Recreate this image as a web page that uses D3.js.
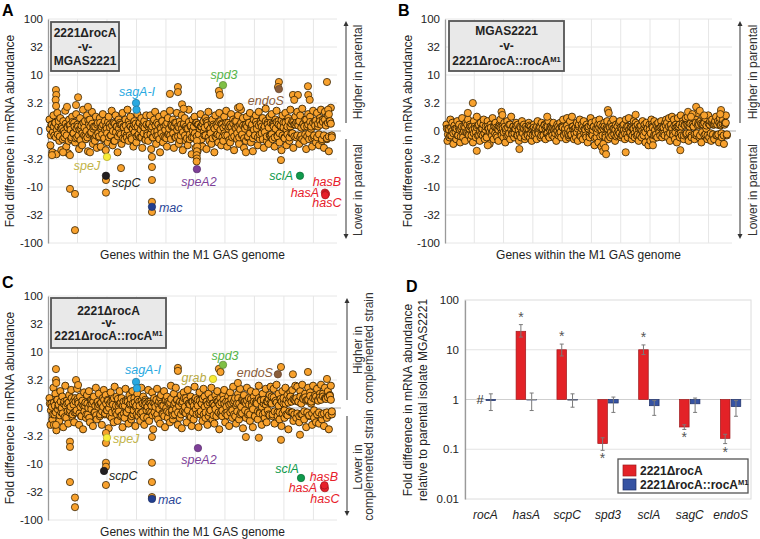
<!DOCTYPE html>
<html><head><meta charset="utf-8">
<script src="https://cdn.jsdelivr.net/npm/d3@7"></script>
<style>body{margin:0;background:#fff}svg{display:block;font-family:"Liberation Sans",Arial,Helvetica,sans-serif}</style>
</head><body><svg id="c" width="760" height="539"></svg>
<script>
// ---------------- DATA ----------------
const yTickSteps=[-4,-3,-2,-1,0,1,2,3,4];
const yTickLabels=["-100","-32","-10","-3.2","0","3.2","10","32","100"];
const gridGenes=[200,400,600,800,1000,1200,1400,1600,1800];

// fold differences of genes in genome order: wider-spread genes
const spreadA=[1.6,-1.8,1.3,-2.4,1.9,-1.2,1.4,-2.6,2.1,1.2,-1.5,1.7,-2.2,1.1,1.5,-1.3,2.3,-1.9,1.2,-2.5,1.6,1.3,-1.4,1.8,-1.1,
1.4,-1.6,2.0,-1.3,1.2,-2.1,1.7,1.1,-1.8,2.4,-1.2,1.5,-1.4,1.9,-2.3,1.3,1.6,-1.1,2.2,-1.7,1.2,-1.5,1.8,-2.0,1.4,
-1.3,1.7,-1.9,1.2,2.0,-1.4,1.5,-2.2,1.1,-1.6,1.8,1.3,-1.2,2.3,-1.8,1.4,-1.5,1.9,1.2,-2.4,1.6,-1.1,1.3,-1.7,2.1,
1.2,-1.4,1.6,-1.2,2.4,-1.5,1.3,1.8,-1.3,1.1,-1.9,1.5,1.2,-1.6,2.0,-1.2,1.4,-1.3,1.7,-2.0,1.2,1.5,-1.4,1.9,-1.1,
-1.5,1.3,1.9,-2.1,1.2,-1.3,1.6,2.2,-1.7,1.4,-1.2,1.8,-2.4,1.1,1.5,-1.6,2.0,-1.3,1.3,-1.9,1.7,-1.1,2.3,-1.4,1.2,
1.6,-2.0,1.4,-1.3,2.1,1.2,-1.7,1.5,-1.2,1.9,-2.2,1.3,1.7,-1.5,1.1,-1.8,2.4,-1.4,1.2,-2.6,1.6,-1.3,1.8,-2.0,1.4,
-2.3,1.3,-1.6,2.0,1.2,-1.9,1.5,-1.2,1.7,-2.1,1.4,2.2,-1.5,1.1,-1.7,1.6,1.3,-2.4,1.9,-1.3,1.2,-1.6,2.1,1.5,-1.8,
1.3,-1.5,1.8,-1.2,2.3,-1.9,1.4,1.2,-1.6,2.0,-1.3,1.6,-2.2,1.5,1.1,-1.4,1.9,-1.7,1.3,2.4,-1.2,1.7,-2.0,1.2,-1.5,
1.8,-1.3,1.4,2.1,-1.6,1.2,-2.3,1.6,-1.2,1.9,1.3,-1.8,2.2,-1.4,1.5,-1.1,1.7,-2.0,1.2,2.5,-1.5,1.4,-1.7,1.8,-1.2,
2.0,-1.4,1.3,-1.9,1.6,2.3,-1.2,1.5,-1.6,1.2,-2.2,1.9,1.4,-1.3,2.1,-1.8,1.2,1.7,-1.5,2.4,-1.1,1.5,-2.0,1.3,1.8,
-1.3,2.2,1.4,-1.7,1.9,-1.2,2.5,1.3,-1.5,1.6,-2.1,1.2,2.0,-1.4,1.8,1.1,-1.9,2.3,-1.3,1.5,-1.6,2.1,1.2,-1.8,1.7,
2.4,-1.5,1.6,-2.0,2.2,1.3,-1.4,1.9,-2.3,1.5,2.6,-1.2];
// fold differences of genes in genome order: genes near no change
const coreA=[1.1,-1.2,1.3,-1.05,1.2,1.4,-1.3,1.05,-1.15,1.5,-1.25,1.1,1.2,-1.4,1.0,-1.1,1.35,-1.2,1.15,-1.5,1.25,1.05,-1.3,1.45,-1.1,
1.2,-1.35,1.1,1.3,-1.2,1.05,-1.45,1.25,-1.1,1.4,1.15,-1.25,1.0,-1.3,1.55,-1.15,1.2,-1.05,1.35,1.1,-1.4,1.2,-1.2,1.3,-1.1,
-1.25,1.4,1.1,-1.15,1.3,-1.35,1.05,1.2,-1.1,1.45,-1.3,1.15,-1.2,1.25,1.0,-1.5,1.35,-1.05,1.2,-1.25,1.1,1.4,-1.15,1.3,-1.35,
1.15,-1.1,1.25,-1.3,1.05,1.5,-1.2,1.2,-1.4,1.1,1.3,-1.05,1.35,-1.25,1.2,-1.15,1.4,1.05,-1.3,1.25,-1.1,1.15,-1.45,1.3,-1.2,
1.2,1.35,-1.15,1.1,-1.3,1.45,-1.05,1.25,-1.2,1.0,1.3,-1.4,1.15,-1.1,1.5,-1.25,1.2,1.05,-1.35,1.4,-1.15,1.1,-1.2,1.3,1.25,
-1.1,1.2,-1.3,1.4,1.05,-1.25,1.15,-1.45,1.3,1.1,-1.05,1.35,-1.2,1.2,-1.35,1.1,1.45,-1.15,1.25,-1.3,1.0,1.2,-1.1,1.4,-1.25,
1.3,-1.15,1.1,1.2,-1.4,1.35,-1.05,1.15,-1.2,1.5,1.25,-1.3,1.05,-1.1,1.4,-1.35,1.2,1.1,-1.25,1.3,-1.15,1.45,-1.2,1.05,1.35,
-1.3,1.15,-1.1,1.25,1.4,-1.2,1.1,-1.45,1.3,1.2,-1.05,1.35,-1.25,1.15,1.5,-1.1,1.2,-1.3,1.05,1.4,-1.15,1.25,-1.35,1.1,1.3,
1.2,-1.25,1.4,-1.1,1.15,1.3,-1.35,1.05,-1.2,1.45,1.1,-1.3,1.25,-1.15,1.35,1.2,-1.4,1.1,-1.05,1.5,-1.25,1.3,1.15,-1.2,1.4,
-1.15,1.35,1.2,-1.3,1.1,1.45,-1.25,1.3,-1.1,1.25,1.55,-1.2,1.15,-1.35,1.4,1.05,-1.15,1.5,-1.3,1.2,1.35,-1.1,1.45,-1.25,1.3,
1.4,-1.2,1.25,1.5,-1.3,1.15,-1.4,1.35,1.2,-1.15,1.6,-1.25,1.3,-1.1,1.45,1.2,-1.35,1.4,-1.2,1.25,1.55,-1.3,1.35,-1.15,1.5,
1.3,-1.4,1.45,-1.2,1.6,1.25,-1.35,1.4,-1.25,1.5,1.35,-1.3];
const spreadB=[1.3,-1.5,1.1,-1.3,1.6,-1.2,1.4,-1.7,1.2,1.1,-1.4,1.5,-1.2,1.3,-1.6,1.1,1.7,-1.3,1.2,-1.5,1.4,-1.1,1.6,-1.2,1.3,
-1.4,1.2,-1.6,1.5,1.1,-1.3,1.8,-1.2,1.3,-1.5,1.4,1.1,-1.2,1.6,-1.4,1.2,-1.3,1.5,1.1,-1.7,1.3,-1.1,1.7,-1.4,1.2,
1.4,-1.2,1.1,-1.5,1.3,1.6,-1.1,1.2,-1.3,1.4,-1.6,1.1,1.5,-1.2,1.3,-1.4,1.8,-1.1,1.2,-1.3,1.1,1.4,-1.2,1.3,-1.5,
1.2,-1.3,1.5,-1.1,1.3,-1.4,1.2,1.1,-1.2,1.4,-1.3,1.2,-1.5,1.1,1.3,-1.2,1.1,-1.4,1.5,-1.1,1.2,-1.3,1.4,1.1,-1.2,
1.3,-1.4,1.2,-1.1,1.5,-1.3,1.2,1.1,-1.2,1.4,-1.3,1.1,-1.5,1.3,1.2,-1.1,1.4,-1.3,1.2,1.6,-1.2,1.1,-1.4,1.7,-1.1,
-1.3,1.5,-1.2,1.8,1.2,-1.4,1.1,-1.3,1.4,-1.5,1.2,1.6,-1.1,1.3,-1.4,1.5,1.1,-1.2,1.3,-1.6,1.2,-1.3,1.7,1.4,-1.2,
1.2,-1.8,1.5,-1.3,1.1,-1.6,1.6,1.3,-1.9,1.2,-1.7,1.4,-1.2,1.1,1.5,-1.4,1.2,-1.3,1.4,-1.2,1.6,1.1,-1.5,1.3,-1.1,
-1.2,1.4,1.5,-1.3,1.1,-1.2,1.3,-1.4,1.6,1.2,-1.3,1.7,-1.1,1.2,-1.4,1.1,1.5,-1.3,1.4,-1.2,1.3,-1.5,1.2,1.1,-1.3,
1.5,-1.2,1.3,-1.6,1.4,1.1,-1.8,1.3,-1.5,1.6,1.2,-1.4,1.5,-1.2,1.3,-1.3,1.4,1.1,-1.2,1.5,-1.3,1.2,-1.1,1.4,1.6,
1.4,-1.3,1.7,-1.5,1.2,1.8,-1.1,1.6,-1.4,1.3,-1.6,1.7,1.2,-1.3,1.9,-1.2,1.5,-1.4,1.3,1.7,-1.1,1.8,-1.5,1.2,2.0,
-1.3,1.9,1.2,-1.4,1.6,-1.2,2.1,1.4,-1.3,1.5,-1.6,1.3,1.8,-1.2,1.7,1.1,-1.4,1.9,-1.3,1.5,-1.5,1.6,1.3,-1.4,1.5,
1.8,-1.2,1.5,-1.6,1.7,1.3,-1.3,1.6,-1.7,1.4,1.9,-1.2];
const coreB=[1.1,-1.15,1.05,-1.2,1.15,1.0,-1.1,1.25,-1.05,1.1,-1.2,1.15,1.05,-1.25,1.2,-1.1,1.0,1.15,-1.05,1.3,-1.15,1.1,1.2,-1.2,1.05,
-1.1,1.2,-1.05,1.15,1.25,-1.2,1.0,-1.15,1.1,1.3,-1.1,1.05,-1.25,1.2,1.1,-1.05,1.15,-1.2,1.0,1.25,-1.1,1.15,-1.3,1.05,1.2,
1.15,-1.2,1.1,-1.05,1.2,1.0,-1.25,1.15,-1.1,1.3,1.05,-1.15,1.2,-1.1,1.1,1.25,-1.2,1.05,-1.15,1.15,-1.05,1.2,1.1,-1.25,1.0,
-1.15,1.1,1.25,-1.1,1.05,-1.2,1.15,1.0,-1.1,1.2,-1.05,1.1,1.15,-1.2,1.05,-1.15,1.25,1.1,-1.1,1.2,-1.25,1.05,1.15,-1.05,1.1,
1.05,-1.1,1.15,1.0,-1.2,1.1,-1.05,1.2,1.15,-1.15,1.05,-1.1,1.25,1.1,-1.2,1.0,-1.15,1.2,1.05,-1.1,1.15,-1.05,1.1,1.3,-1.2,
-1.25,1.1,1.2,-1.1,1.05,-1.3,1.15,1.1,-1.2,1.25,-1.15,1.05,1.2,-1.35,1.1,-1.05,1.3,1.15,-1.25,1.05,-1.2,1.1,1.2,-1.3,1.15,
1.1,-1.2,1.15,-1.05,1.2,1.1,-1.15,1.05,-1.25,1.2,1.0,-1.1,1.15,-1.2,1.25,1.05,-1.1,1.1,-1.15,1.2,1.05,-1.05,1.15,-1.2,1.1,
-1.1,1.2,1.05,-1.15,1.1,-1.2,1.25,1.0,-1.1,1.15,-1.05,1.2,1.1,-1.25,1.05,-1.1,1.3,1.15,-1.2,1.05,-1.15,1.2,1.1,-1.05,1.15,
1.2,-1.1,1.15,-1.2,1.25,1.05,-1.15,1.2,-1.1,1.3,1.1,-1.2,1.25,-1.05,1.15,1.2,-1.15,1.3,-1.1,1.2,1.35,-1.2,1.25,-1.15,1.3,
1.25,-1.1,1.35,-1.2,1.3,1.2,-1.15,1.4,-1.1,1.25,1.3,-1.2,1.35,-1.05,1.3,1.4,-1.15,1.25,-1.2,1.35,1.3,-1.1,1.4,-1.15,1.3,
1.35,-1.2,1.3,-1.15,1.4,1.25,-1.1,1.35,-1.2,1.3,1.4,-1.15];
const spreadC=[1.5,-2.0,1.2,-1.6,2.3,-1.3,1.8,-2.5,1.4,1.1,-1.7,2.0,-1.2,1.6,-2.2,1.3,2.5,-1.5,1.2,-1.9,1.7,-1.1,2.1,-1.4,1.3,
-1.8,1.5,-1.2,2.2,1.3,-2.0,1.6,-1.4,1.2,-2.4,1.9,1.1,-1.5,1.7,-1.3,2.0,-1.8,1.4,1.2,-2.1,1.6,-1.2,2.3,-1.6,1.3,
1.8,-1.4,1.2,-2.0,1.5,2.1,-1.3,1.7,-1.1,1.4,-2.3,1.2,1.9,-1.5,1.3,-1.8,2.4,-1.2,1.6,-1.7,1.1,2.0,-1.4,1.5,-2.2,
1.3,-1.5,2.2,-1.2,1.4,-1.9,1.7,1.2,-1.6,2.0,-1.3,1.5,-2.1,1.1,1.8,-1.4,1.3,-1.7,2.3,-1.2,1.6,-2.0,1.4,1.2,-1.5,
2.1,-1.7,1.3,-1.2,1.9,-2.4,1.5,1.2,-1.4,2.2,-1.6,1.3,-1.9,1.7,1.1,-1.3,2.0,-2.2,1.4,1.6,-1.5,1.2,-1.8,2.5,-1.2,
-1.6,1.8,-1.3,2.3,1.4,-2.0,1.2,-1.5,1.7,-2.3,1.3,1.9,-1.2,1.5,-1.8,2.1,1.2,-1.4,1.6,-2.1,1.3,-1.6,2.4,1.5,-1.3,
1.4,-2.2,1.9,-1.3,1.2,-1.7,2.2,1.6,-1.5,1.3,-2.0,1.8,-1.2,1.4,2.3,-1.6,1.2,-1.9,1.7,-1.4,2.0,1.3,-2.4,1.5,-1.2,
-1.4,1.7,2.1,-1.8,1.3,-1.2,1.6,-2.1,1.9,1.2,-1.5,2.4,-1.3,1.5,-1.9,1.2,1.8,-1.6,2.2,-1.2,1.4,-2.3,1.7,1.3,-1.5,
2.3,-1.3,1.5,-1.7,2.0,1.2,-2.2,1.6,-1.4,1.9,1.3,-1.6,2.5,-1.2,1.4,-2.0,1.8,1.2,-1.5,2.2,-1.8,1.3,-1.3,1.7,2.4,
1.6,-1.4,2.2,-1.9,1.3,2.6,-1.2,1.8,-1.6,1.4,-2.1,2.0,1.2,-1.5,2.3,-1.3,1.7,-2.4,1.5,1.9,-1.2,2.1,-1.7,1.4,2.5,
-1.5,2.4,1.3,-1.8,2.0,-1.3,2.6,1.5,-1.6,1.8,-2.2,1.4,2.3,-1.4,1.9,1.2,-2.0,2.5,-1.5,1.7,-1.8,2.2,1.4,-1.9,1.8,
2.6,-1.6,1.8,-2.1,2.3,1.5,-1.5,2.0,-2.4,1.7,2.5,-1.3];
const coreC=[1.2,-1.1,1.05,-1.3,1.25,1.1,-1.2,1.4,-1.05,1.15,-1.35,1.3,1.0,-1.25,1.2,-1.45,1.1,1.35,-1.15,1.25,-1.2,1.05,1.5,-1.3,1.15,
-1.2,1.3,-1.1,1.45,1.2,-1.25,1.05,-1.4,1.35,1.1,-1.15,1.25,-1.3,1.2,1.0,-1.5,1.15,-1.05,1.4,1.3,-1.2,1.1,-1.35,1.25,1.05,
1.15,-1.3,1.25,-1.15,1.05,1.4,-1.25,1.2,-1.1,1.35,1.0,-1.4,1.3,-1.2,1.15,1.5,-1.05,1.1,-1.3,1.45,-1.15,1.2,1.25,-1.35,1.1,
-1.25,1.1,1.35,-1.2,1.3,-1.05,1.15,1.45,-1.4,1.2,-1.1,1.25,1.05,-1.3,1.4,-1.15,1.1,-1.25,1.35,1.2,-1.45,1.15,1.3,-1.1,1.05,
1.3,-1.15,1.2,1.1,-1.35,1.25,-1.2,1.05,1.4,-1.3,1.15,-1.05,1.5,1.2,-1.25,1.1,-1.4,1.35,1.0,-1.15,1.3,-1.2,1.25,1.45,-1.1,
-1.35,1.15,1.25,-1.05,1.4,-1.2,1.1,1.3,-1.3,1.2,-1.15,1.5,1.05,-1.25,1.35,-1.1,1.2,1.15,-1.45,1.3,-1.2,1.1,1.4,-1.05,1.25,
1.1,-1.25,1.35,-1.15,1.2,1.45,-1.3,1.05,-1.2,1.3,1.15,-1.4,1.25,-1.1,1.5,1.2,-1.35,1.1,-1.05,1.4,1.3,-1.2,1.15,-1.3,1.25,
-1.1,1.4,1.2,-1.25,1.05,-1.35,1.3,1.15,-1.2,1.45,-1.1,1.25,1.35,-1.4,1.1,-1.15,1.5,1.2,-1.3,1.05,-1.25,1.4,1.3,-1.1,1.2,
1.35,-1.2,1.15,-1.3,1.45,1.1,-1.05,1.3,-1.4,1.25,1.2,-1.15,1.5,-1.25,1.35,1.05,-1.3,1.4,-1.2,1.15,1.3,-1.1,1.45,-1.35,1.25,
1.2,-1.3,1.55,-1.15,1.35,1.25,-1.4,1.1,-1.2,1.45,1.3,-1.25,1.5,-1.1,1.2,1.4,-1.35,1.25,-1.15,1.6,1.3,-1.2,1.45,-1.3,1.35,
1.5,-1.25,1.3,-1.4,1.6,1.2,-1.3,1.45,-1.15,1.55,1.35,-1.2,1.4,-1.35,1.65,1.3,-1.25,1.5,-1.1,1.45,1.6,-1.3,1.35,-1.2,1.55,
1.4,-1.3,1.6,-1.25,1.5,1.45,-1.2,1.55,-1.35,1.65,1.4,-1.15];

// outlying genes: [gene position, fold difference]
const outA=[[54,5.4],[56,4.4],[52,3.6],[55,2.8],[129,2.7],[204,4.0],[190,2.9],[271,2.7],
[27,-2.7],[102,-2.4],[149,-2.7],[149,-10.8],[183,-13.3],[183,-59],
[393,-7.5],[393,-12.6],[495,-4.6],[285,-2.4],
[705,-2.9],[705,-4.4],[705,-7.5],[705,-18.4],[705,-27.9],
[827,4.6],[881,6.1],[881,4.95],[909,3.0],[920,2.5],
[1010,-1.5],[1012,-1.9],[1010,-2.3],[1008,-2.7],[1010,-3.1],[1008,-3.5],
[1159,5.2],[1165,4.4],[1288,2.6],[1300,2.7],
[1566,7.5],[1560,6.1],[1580,-3.3],
[1661,4.4],[1695,4.4],[1670,3.6],[1763,6.3],[1765,4.4],[1775,3.6],[1892,7.5],[1342,-2.4],[1900,2.4],[1905,2.0]];
const outB=[[190,3.16],[217,-2.26],[508,-2.1],[1607,-2.2],[156,2.1],[386,2.2],[392,1.93],[698,1.8],
[1112,2.37],[1118,2.1],[1302,1.95],[1715,2.7],[1885,2.37],[1660,2.2],[1690,2.0],[1740,2.3],[1770,1.9],[1680,1.8],
[1080,-2.3],[1095,-2.0],[1100,-2.6],[1234,-2.4],[1420,-1.8],[292,-1.8],[1880,2.0]];
const outC=[[54,4.95],[54,3.16],[56,2.8],[40,-2.0],[54,-2.0],
[149,-4.0],[149,-4.95],[149,-21],[183,-39.8],[183,-59],
[190,3.16],[204,2.57],
[393,-2.8],[393,-4.2],[393,-9.5],[393,-11.2],[393,-23.7],
[705,-3.3],[705,-9.5],[705,-21],[705,-38.9],
[881,5.2],[881,4.6],[1288,2.8],[1342,-3.3],[1430,-3.4],[1580,-3.7],[1580,5.4],
[1661,4.0],[1763,4.4],[1892,3.3],[1709,-3.0],[1159,5.0],[1170,4.4]];

// highlighted genes: [gene position, fold difference, group]
const hlA=[[597,3.16,"sag"],[600,2.4,"sag"],[1187,6.6,"spd"],[1566,5.6,"endo"],[400,-2.9,"speJ"],
[393,-6.3,"scpC"],[705,-22.6,"mac"],[1010,-4.8,"speA"],[1709,-6.3,"scl"],
[1878,-12.6,"has"],[1885,-13.3,"has"],[1880,-14,"has"]];
const hlC=[[597,2.92,"sag"],[603,2.26,"sag"],[1119,3.3,"grab"],[1187,5.9,"spd"],[1559,4.0,"endo"],
[400,-3.4,"speJ"],[380,-13.3,"scpC"],[705,-42,"mac"],[1017,-5.2,"speA"],[1716,-17.8,"scl"],
[1871,-25.7,"has"],[1878,-27,"has"],[1875,-24,"has"]];
const labelNamesA=["sagA-I","spd3","endoS","speJ","scpC","mac","speA2","sclA","hasB","hasA","hasC"];
const labelNamesC=["sagA-I","grab","spd3","endoS","speJ","scpC","mac","speA2","sclA","hasB","hasA","hasC"];

// panel D
const dGenes=["rocA","hasA","scpC","spd3","sclA","sagC","endoS"];
const dDelta=[null,23.5,10,0.13,10,0.28,0.165];
const dDeltaLo=[null,18,7.5,0.095,8,0.25,0.13];
const dDeltaHi=[null,32,13,0.17,12.5,0.31,0.2];
const dComp=[0.95,1.0,0.98,0.85,0.75,0.82,0.72];
const dCompLo=[0.6,0.6,0.7,0.55,0.48,0.55,0.46];
const dCompHi=[1.3,1.35,1.3,1.12,0.95,1.07,0.95];
const dTicks=[100,10,1,0.1,0.01];
const dTickLabels=["100","10","1","0.1","0.01"];
const dSeries=["2221\u0394rocA","2221\u0394rocA::rocA"];

// ---------------- STYLE / LAYOUT ----------------
const dotCol={sag:"#29a9e1",spd:"#7fbf45",endo:"#8a5d3b",speJ:"#f7ec37",scpC:"#231f20",mac:"#233f8f",speA:"#7e3f98",scl:"#0f9a4c",has:"#e7202a",grab:"#f7ec37"};
const txtCol={sag:"#29a9e1",spd:"#55b548",endo:"#8a5d3b",speJ:"#c2b448",scpC:"#231f20",mac:"#2a4697",speA:"#7e3f98",scl:"#0f9a4c",has:"#e7202a",grab:"#b8aa45"};
// label layout: [dot index, dx, dy, anchor, colour group]
const lblLayA=[[0,1,-11,"middle","sag"],[2,1,-10,"middle","spd"],[3,-13,12,"middle","endo"],[4,-20,9,"middle","speJ"],
[5,6,7,"start","scpC"],[6,7,1,"start","mac"],[7,2,12,"middle","speA"],[8,-7,0,"end","scl"],
[9,2,-11,"middle","has"],[9,-20,0,"middle","has"],[9,2,10,"middle","has"]];
const lblLayC=[[0,7,-12,"middle","sag"],[2,-19,-1,"middle","grab"],[3,2,-9,"middle","spd"],[4,-23,-2,"middle","endo"],
[5,6,1,"start","speJ"],[6,5,5,"start","scpC"],[7,6,1,"start","mac"],[8,1,12,"middle","speA"],[9,-14,-9,"middle","scl"],
[10,0,-10,"middle","has"],[10,-21,1,"middle","has"],[10,1,12,"middle","has"]];

const svg=d3.select("#c");
const ORANGE="#f8a12d", OSTROKE="#2f1e00";
const step=f=>f>=0?2*Math.log10(f):-2*Math.log10(-f);

function scatter(o){
  const g=svg.append("g");
  const x=d3.scaleLinear().domain([0,1960]).range([o.x0,o.x1]);
  const y=d3.scaleLinear().domain([-4,4]).range([o.y1,o.y0]);
  g.selectAll(".vg").data(gridGenes).join("line").attr("x1",d=>x(d)).attr("x2",d=>x(d))
    .attr("y1",o.y0).attr("y2",o.y1).attr("stroke","#e6e6e6").attr("stroke-width",1);
  g.selectAll(".hg").data(yTickSteps.filter(d=>d!==0)).join("line").attr("x1",o.x0).attr("x2",o.x1)
    .attr("y1",d=>y(d)).attr("y2",d=>y(d)).attr("stroke","#e6e6e6");
  g.append("line").attr("x1",o.x0).attr("x2",o.x1+4).attr("y1",y(0)).attr("y2",y(0)).attr("stroke","#b0b0b0").attr("stroke-width",1.2);
  const ax=g.append("g").attr("transform",`translate(${o.x0},0)`)
    .call(d3.axisLeft(y).tickValues(yTickSteps).tickFormat((d,i)=>yTickLabels[i]).tickSize(0).tickSizeOuter(0).tickPadding(5));
  ax.select(".domain").attr("stroke","#9a9a9a").attr("stroke-width",1.3);
  ax.selectAll("text").attr("font-size",11.5).attr("fill","#222").attr("font-family","Liberation Sans, Arial, sans-serif");
  const pos=(arr,off)=>arr.map((f,i)=>[10+off+i*(1915-off)/(arr.length-1),f]);
  const pts=pos(o.spread,0).concat(pos(o.core,3)).sort((a,b)=>a[0]-b[0]);
  g.selectAll(".b").data(pts).join("circle").attr("cx",d=>x(d[0])).attr("cy",d=>y(step(d[1]))).attr("r",3.6)
    .attr("fill",ORANGE).attr("stroke",OSTROKE).attr("stroke-width",0.85);
  g.selectAll(".o").data(o.out).join("circle").attr("cx",d=>x(d[0])).attr("cy",d=>y(step(d[1]))).attr("r",3.6)
    .attr("fill",ORANGE).attr("stroke",OSTROKE).attr("stroke-width",0.75);
  if(o.hl){
    g.selectAll(".h").data(o.hl).join("circle").attr("cx",d=>x(d[0])).attr("cy",d=>y(step(d[1]))).attr("r",3.7)
      .attr("fill",d=>dotCol[d[2]]).attr("stroke",d=>d3.color(dotCol[d[2]]).darker(1)).attr("stroke-width",0.7);
    o.lay.forEach((L,i)=>{
      const d=o.hl[L[0]];
      g.append("text").attr("x",x(d[0])+L[1]).attr("y",y(step(d[1]))+L[2]).attr("dy","0.35em")
        .attr("text-anchor",L[3]).attr("font-size",12.5).attr("font-style","italic").attr("fill",txtCol[L[4]]).text(o.names[i]);
    });
  }
  g.append("text").attr("transform",`translate(${o.ytx},${(o.y0+o.y1)/2}) rotate(-90)`).attr("text-anchor","middle")
    .attr("dy","0.35em").attr("font-size",12).attr("fill","#222").text("Fold difference in mRNA abundance");
  g.append("text").attr("x",(o.x0+o.x1)/2).attr("y",o.y1+16).attr("text-anchor","middle").attr("font-size",12).attr("fill","#222")
    .text("Genes within the M1 GAS genome");
  g.append("text").attr("x",o.lx).attr("y",o.ly).attr("font-size",16).attr("font-weight","bold").text(o.letter);
  g.append("rect").attr("x",o.bx).attr("y",o.by).attr("width",o.bw).attr("height",o.bh).attr("fill","#e9e9e9").attr("stroke","#555").attr("stroke-width",1.8);
  o.boxLines.forEach((t,i)=>{
    const tx=g.append("text").attr("x",o.bx+o.bw/2).attr("y",o.by+o.bh/2+(i-1)*o.bls).attr("dy","0.35em")
      .attr("text-anchor","middle").attr("font-size",12).attr("font-weight","bold").attr("fill","#222");
    tx.append("tspan").text(t[0]);
    if(t[1]) tx.append("tspan").attr("font-size",7.5).attr("dy","-0.45em").text(t[1]);
  });
  const ay0=o.y0+2, ay1=o.y1-4, mid=y(0);
  const ar=g.append("g").attr("stroke","#555").attr("fill","#333");
  ar.append("line").attr("x1",o.ax).attr("x2",o.ax).attr("y1",ay0+4).attr("y2",mid-8).attr("stroke-width",1.2);
  ar.append("line").attr("x1",o.ax).attr("x2",o.ax).attr("y1",mid+8).attr("y2",ay1-4).attr("stroke-width",1.2);
  ar.append("path").attr("d",`M${o.ax-2.5},${ay0+5}L${o.ax},${ay0}L${o.ax+2.5},${ay0+5}Z`).attr("stroke","none");
  ar.append("path").attr("d",`M${o.ax-2.5},${ay1-5}L${o.ax},${ay1}L${o.ax+2.5},${ay1-5}Z`).attr("stroke","none");
  o.sideTexts.forEach(s=>{
    g.append("text").attr("transform",`translate(${o.ax+s[0]},${s[1]}) rotate(-90)`).attr("text-anchor","middle")
      .attr("dy","0.35em").attr("font-size",12).attr("fill","#333").text(s[2]);
  });
}

scatter({x0:48,x1:337,y0:19,y1:243,spread:spreadA,core:coreA,out:outA,hl:hlA,lay:lblLayA,names:labelNamesA,ytx:10,letter:"A",lx:2,ly:16,
  bx:51,by:22,bw:68,bh:49,bls:14,boxLines:[["2221\u0394rocA"],["-v-"],["MGAS2221"]],ax:346,
  sideTexts:[[12,72,"Higher in parental"],[12,190,"Lower in parental"]]});
scatter({x0:445,x1:732,y0:19,y1:243,spread:spreadB,core:coreB,out:outB,hl:null,ytx:408,letter:"B",lx:398,ly:16,
  bx:449,by:21,bw:115,bh:50,bls:15,boxLines:[["MGAS2221"],["-v-"],["2221\u0394rocA::rocA","M1"]],ax:740,
  sideTexts:[[13,72,"Higher in parental"],[13,190,"Lower in parental"]]});
scatter({x0:48,x1:337,y0:296,y1:520,spread:spreadC,core:coreC,out:outC,hl:hlC,lay:lblLayC,names:labelNamesC,ytx:10,letter:"C",lx:2,ly:288,
  bx:51,by:298,bw:115,bh:50,bls:12.5,boxLines:[["2221\u0394rocA"],["-v-"],["2221\u0394rocA::rocA","M1"]],ax:347,
  sideTexts:[[11,350,"Higher in"],[22,348,"complemented strain"],[11,467,"Lower in"],[22,465,"complemented strain"]]});

// ---------------- PANEL D ----------------
(function(){
  const g=svg.append("g");
  const L=465,R=751,T=300,B=499;
  const x=d3.scaleBand().domain(dGenes).range([L,R]);
  const y=d3.scaleLog().domain([0.01,100]).range([B,T]);
  g.append("rect").attr("x",L).attr("y",T).attr("width",R-L).attr("height",B-T).attr("fill","none").attr("stroke","#dcdcdc");
  g.selectAll(".hg").data([10,1,0.1]).join("line").attr("x1",L).attr("x2",R).attr("y1",d=>y(d)).attr("y2",d=>y(d))
    .attr("stroke",d=>d===1?"#cfcfcf":"#e3e3e3");
  const ax=g.append("g").attr("transform",`translate(${L},0)`)
    .call(d3.axisLeft(y).tickValues(dTicks).tickFormat((d,i)=>dTickLabels[i]).tickSize(0).tickSizeOuter(0).tickPadding(6));
  ax.select(".domain").attr("stroke","#9a9a9a").attr("stroke-width",1.3);
  ax.selectAll("text").attr("font-size",11.5).attr("fill","#222");
  const bw=9.6, off=5.4;
  const cx=(d)=>x(d)+x.bandwidth()/2;
  const red="#e32227", blue="#3653a3";
  dGenes.forEach((gname,i)=>{
    const c=cx(gname);
    if(dDelta[i]!=null){
      const v=dDelta[i];
      g.append("rect").attr("x",c-off-bw/2).attr("width",bw).attr("y",Math.min(y(v),y(1))).attr("height",Math.abs(y(v)-y(1)))
        .attr("fill",red).attr("stroke","#9e1a1d").attr("stroke-width",0.7);
    }
    const vb=dComp[i];
    g.append("rect").attr("x",c+off-bw/2).attr("width",bw).attr("y",Math.min(y(vb),y(1))).attr("height",Math.max(0.5,Math.abs(y(vb)-y(1))))
      .attr("fill",blue).attr("stroke","#1f2f66").attr("stroke-width",0.7);
  });
  const eb=(cxp,lo,hi)=>{
    const e=g.append("g").attr("stroke","#7a7a7a").attr("stroke-width",1);
    e.append("line").attr("x1",cxp).attr("x2",cxp).attr("y1",y(lo)).attr("y2",y(hi));
    e.append("line").attr("x1",cxp-2).attr("x2",cxp+2).attr("y1",y(lo)).attr("y2",y(lo));
    e.append("line").attr("x1",cxp-2).attr("x2",cxp+2).attr("y1",y(hi)).attr("y2",y(hi));
  };
  dGenes.forEach((gname,i)=>{
    const c=cx(gname);
    if(dDelta[i]!=null){
      eb(c-off,dDeltaLo[i],dDeltaHi[i]);
      const up=dDelta[i]>1;
      g.append("text").attr("x",c-off).attr("y",up?y(dDeltaHi[i])-3:y(dDeltaLo[i])+13).attr("text-anchor","middle")
        .attr("font-size",14).attr("fill","#555").text("*");
    } else {
      g.append("text").attr("x",c-off).attr("y",y(1)).attr("dy","0.35em").attr("text-anchor","middle")
        .attr("font-size",13).attr("fill","#333").text("#");
    }
    eb(c+off,dCompLo[i],dCompHi[i]);
    if(Math.abs(dComp[i]-1)<0.03){
      g.append("line").attr("x1",c+off-bw/2).attr("x2",c+off+bw/2).attr("y1",y(dComp[i])).attr("y2",y(dComp[i])).attr("stroke","#8a8a8a");
    }
  });
  g.selectAll(".cl").data(dGenes).join("text").attr("x",d=>cx(d)).attr("y",519).attr("text-anchor","middle")
    .attr("font-size",12).attr("font-style","italic").attr("fill","#222").text(d=>d);
  g.append("text").attr("transform","translate(408,400) rotate(-90)").attr("text-anchor","middle").attr("dy","0.35em")
    .attr("font-size",12).attr("fill","#222").text("Fold difference in mRNA abundance");
  g.append("text").attr("transform","translate(423,400) rotate(-90)").attr("text-anchor","middle").attr("dy","0.35em")
    .attr("font-size",12).attr("fill","#222").text("relative to parental isolate MGAS2221");
  g.append("text").attr("x",406).attr("y",292).attr("font-size",16).attr("font-weight","bold").text("D");
  const lg=g.append("g");
  lg.append("rect").attr("x",618).attr("y",459).attr("width",130).attr("height",34).attr("fill","#fff").attr("stroke","#555").attr("stroke-width",1.3);
  [[red,"#9e1a1d"],[blue,"#1f2f66"]].forEach((c,i)=>{
    lg.append("rect").attr("x",623).attr("y",465+i*14).attr("width",13).attr("height",11).attr("fill",c[0]).attr("stroke",c[1]).attr("stroke-width",0.7);
    const t=lg.append("text").attr("x",640).attr("y",470.5+i*14).attr("dy","0.35em").attr("font-size",12).attr("font-weight","bold").attr("fill","#222");
    t.append("tspan").text(dSeries[i]);
    if(i===1) t.append("tspan").attr("font-size",7.5).attr("dy","-0.45em").text("M1");
  });
})();
</script></body></html>
